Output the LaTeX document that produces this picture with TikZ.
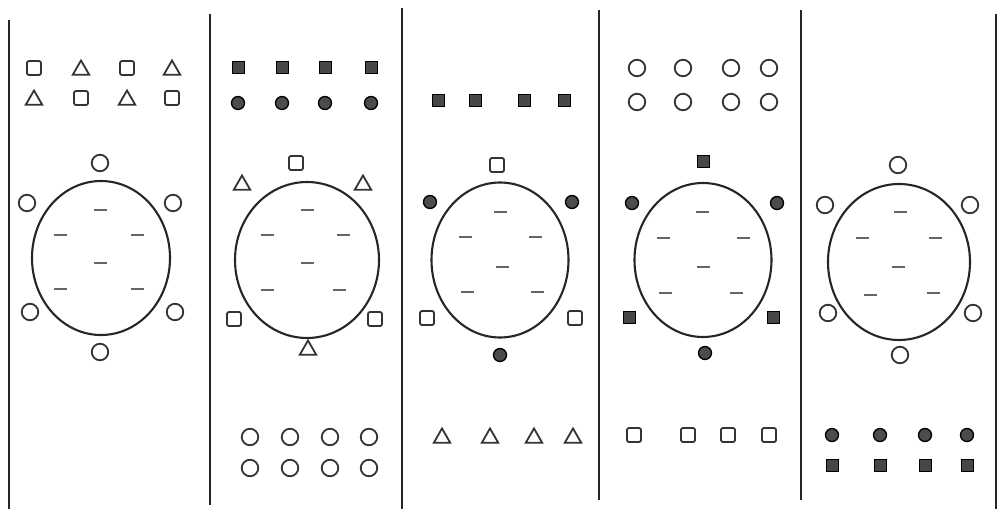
\documentclass[tikz,border=0pt]{standalone}
\usetikzlibrary{shapes.geometric}
\begin{document}
\begin{tikzpicture}[x=1pt,y=-1pt,
 sep/.style={line width=2.8pt,black!85},
 ring/.style={ellipse,draw=black!85,line width=2.1pt,inner sep=0pt},
 oc/.style={circle,draw=black!80,line width=1.8pt,minimum size=16.5pt,inner sep=0pt},
 osq/.style={rectangle,draw=black!80,line width=1.8pt,minimum size=14pt,rounded corners=2pt,inner sep=0pt},
 otri/.style={regular polygon,regular polygon sides=3,draw=black!80,line width=1.8pt,minimum size=19pt,inner sep=0pt,yshift=-2pt},
 dc/.style={circle,draw=black,fill=black!70,line width=1.3pt,minimum size=13pt,inner sep=0pt},
 dsq/.style={rectangle,draw=black,fill=black!72,line width=1pt,minimum size=12pt,inner sep=0pt},
 mk/.style={rectangle,fill=black!60,minimum width=13pt,minimum height=2.2pt,inner sep=0pt}]
\fill[white] (0,0) rectangle (997,509);
\useasboundingbox (0,0) rectangle (997,509);
% separators
\coordinate (s0a) at (9,20);   \coordinate (s0b) at (9,509);
\coordinate (s1a) at (210,14); \coordinate (s1b) at (210,505);
\coordinate (s2a) at (402,8);  \coordinate (s2b) at (402,509);
\coordinate (s3a) at (599,10); \coordinate (s3b) at (599,500);
\coordinate (s4a) at (801,10); \coordinate (s4b) at (801,500);
\coordinate (s5a) at (996,14); \coordinate (s5b) at (996,509);
\foreach \i in {0,...,5}{\draw[sep] (s\i a) -- (s\i b);}

% ===== Panel 1 =====
\node[osq]  (a11) at (34,68) {};
\node[otri] (a12) at (81,68) {};
\node[osq]  (a13) at (127,68) {};
\node[otri] (a14) at (172,68) {};
\node[otri] (a21) at (34,98) {};
\node[osq]  (a22) at (81,98) {};
\node[otri] (a23) at (127,98) {};
\node[osq]  (a24) at (172,98) {};
\node[ring,minimum width=138pt,minimum height=154pt] (ae) at (101,258) {};
\node[oc] (ao1) at (100,163) {};
\node[oc] (ao2) at (27,203) {};
\node[oc] (ao3) at (173,203) {};
\node[oc] (ao4) at (30,312) {};
\node[oc] (ao5) at (175,312) {};
\node[oc] (ao6) at (100,352) {};
\node[mk] (am1) at (100,210) {};
\node[mk] (am2) at (60,235) {};
\node[mk] (am3) at (137,235) {};
\node[mk] (am4) at (100,263) {};
\node[mk] (am5) at (60,289) {};
\node[mk] (am6) at (137,289) {};

% ===== Panel 2 =====
\foreach \x [count=\k] in {238,282,325,371}{
  \node[dsq] (b1\k) at (\x,67) {};
  \node[dc]  (b2\k) at (\x,103) {};
}
\node[ring,minimum width=144pt,minimum height=156pt] (be) at (307,260) {};
\node[osq]  (bo1) at (296,163) {};
\node[otri] (bo2) at (242,183) {};
\node[otri] (bo3) at (363,183) {};
\node[osq]  (bo4) at (234,319) {};
\node[osq]  (bo5) at (375,319) {};
\node[otri] (bo6) at (308,348) {};
\node[mk] (bm1) at (307,210) {};
\node[mk] (bm2) at (267,235) {};
\node[mk] (bm3) at (343,235) {};
\node[mk] (bm4) at (307,263) {};
\node[mk] (bm5) at (267,290) {};
\node[mk] (bm6) at (339,290) {};
\foreach \x [count=\k] in {250,290,330,369}{
  \node[oc] (b3\k) at (\x,437) {};
  \node[oc] (b4\k) at (\x,468) {};
}

% ===== Panel 3 =====
\foreach \x [count=\k] in {438,475,524,564}{
  \node[dsq] (c1\k) at (\x,100) {};
}
\node[ring,minimum width=137pt,minimum height=155pt] (ce) at (500,260) {};
\node[osq] (co1) at (497,165) {};
\node[dc]  (co2) at (430,202) {};
\node[dc]  (co3) at (572,202) {};
\node[osq] (co4) at (427,318) {};
\node[osq] (co5) at (575,318) {};
\node[dc]  (co6) at (500,355) {};
\node[mk] (cm1) at (500,212) {};
\node[mk] (cm2) at (465,237) {};
\node[mk] (cm3) at (535,237) {};
\node[mk] (cm4) at (502,267) {};
\node[mk] (cm5) at (467,292) {};
\node[mk] (cm6) at (537,292) {};
\foreach \x [count=\k] in {442,490,534,573}{
  \node[otri] (c2\k) at (\x,436) {};
}

% ===== Panel 4 =====
\foreach \x [count=\k] in {637,683,731,769}{
  \node[oc] (d1\k) at (\x,68) {};
  \node[oc] (d2\k) at (\x,102) {};
}
\node[ring,minimum width=137pt,minimum height=154pt] (de) at (703,260) {};
\node[dsq] (do1) at (703,161) {};
\node[dc]  (do2) at (632,203) {};
\node[dc]  (do3) at (777,203) {};
\node[dsq] (do4) at (629,317) {};
\node[dsq] (do5) at (773,317) {};
\node[dc]  (do6) at (705,353) {};
\node[mk] (dm1) at (702,212) {};
\node[mk] (dm2) at (663,238) {};
\node[mk] (dm3) at (743,238) {};
\node[mk] (dm4) at (703,267) {};
\node[mk] (dm5) at (665,293) {};
\node[mk] (dm6) at (736,293) {};
\foreach \x [count=\k] in {634,688,728,769}{
  \node[osq] (d3\k) at (\x,435) {};
}

% ===== Panel 5 =====
\node[ring,minimum width=142pt,minimum height=156pt] (ee) at (899,262) {};
\node[oc] (eo1) at (898,165) {};
\node[oc] (eo2) at (825,205) {};
\node[oc] (eo3) at (970,205) {};
\node[oc] (eo4) at (828,313) {};
\node[oc] (eo5) at (973,313) {};
\node[oc] (eo6) at (900,355) {};
\node[mk] (em1) at (900,212) {};
\node[mk] (em2) at (862,238) {};
\node[mk] (em3) at (935,238) {};
\node[mk] (em4) at (898,267) {};
\node[mk] (em5) at (870,295) {};
\node[mk] (em6) at (933,293) {};
\foreach \x [count=\k] in {832,880,925,967}{
  \node[dc]  (e1\k) at (\x,435) {};
  \node[dsq] (e2\k) at (\x,465) {};
}
\end{tikzpicture}
\end{document}
